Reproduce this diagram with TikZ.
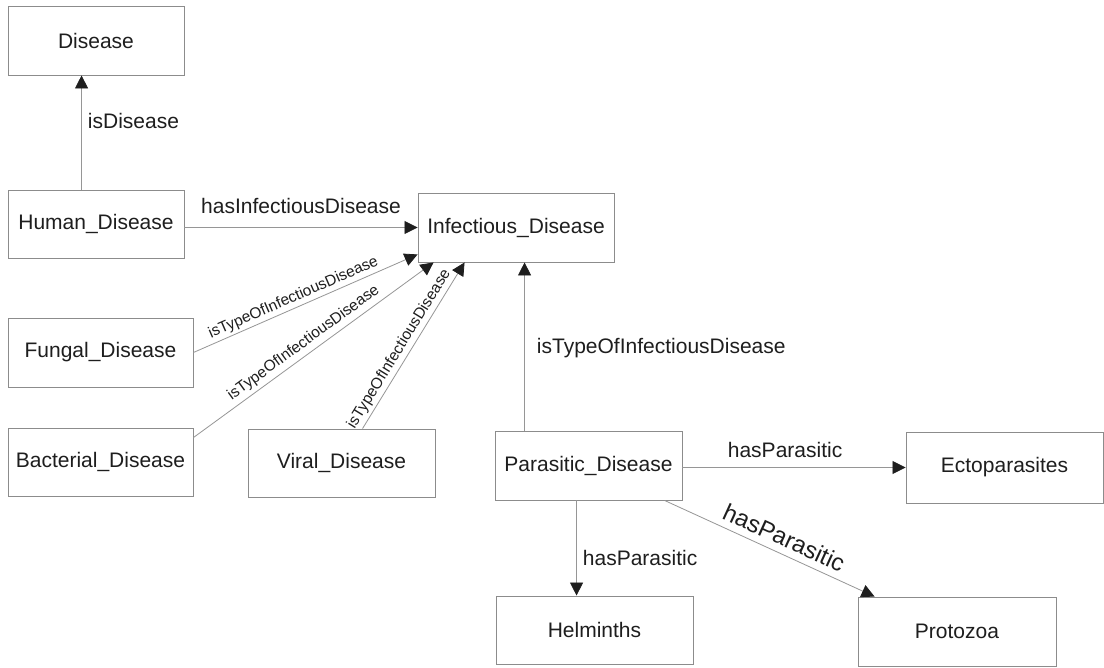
\documentclass[tikz,border=0pt]{standalone}
\usepackage{fontspec}
\setmainfont{Liberation Sans}
\usetikzlibrary{arrows.meta,calc}
\definecolor{boxline}{RGB}{140,140,140}
\definecolor{conline}{RGB}{150,150,150}
\definecolor{txt}{RGB}{30,30,30}
\tikzset{
  cbox/.style={draw=boxline, line width=0.9pt, inner sep=0pt, text=txt,
    font=\fontsize{21pt}{25pt}\selectfont, minimum width=#1},
  cbox/.default=180pt,
  arr/.style={draw=conline, line width=0.8pt,
    -{Triangle[length=13pt,width=13pt,color=txt]}},
  lab/.style={inner sep=0pt, text=txt, text height=0.72em, text depth=0pt,
    font=\fontsize{21pt}{25pt}\selectfont},
  slab/.style={inner sep=0pt, text=txt, text height=0.72em, text depth=0pt,
    font=\fontsize{15.5pt}{18pt}\selectfont, sloped},
  blab/.style={inner sep=0pt, text=txt, text height=0.72em, text depth=0pt,
    font=\fontsize{24pt}{28pt}\selectfont, sloped}
}
\begin{document}
\begin{tikzpicture}[x=1pt,y=-1pt]
\useasboundingbox[fill=white] (0,0) rectangle (1104,668);
% boxes
\node[cbox=176pt, minimum height=69pt] (dis) at (96,40.5) {Disease};
\node[cbox=176pt, minimum height=68pt] (hum) at (96,224) {Human\_Disease};
\node[cbox=196pt, minimum height=69pt] (inf) at (516,227.5) {Infectious\_Disease};
\node[cbox=185pt, minimum height=69pt] (fun) at (100.5,352.5) {Fungal\_Disease};
\node[cbox=185pt, minimum height=68pt] (bac) at (100.5,462) {Bacterial\_Disease};
\node[cbox=187pt, minimum height=68pt] (vir) at (341.5,463) {Viral\_Disease};
\node[cbox=187pt, minimum height=69pt] (par) at (588.5,465.5) {Parasitic\_Disease};
\node[cbox=197pt, minimum height=71pt] (ect) at (1004.5,467.5) {Ectoparasites};
\node[cbox=197pt, minimum height=68pt] (hel) at (594.5,630) {Helminths};
\node[cbox=198pt, minimum height=69pt] (pro) at (957,631.5) {Protozoa};
% helper coordinates
\coordinate (humtop) at ([xshift=74pt]hum.north west);
\coordinate (partop) at ([xshift=30pt]par.north west);
\coordinate (parbot) at ([xshift=82pt]par.south west);
% connectors
\draw[arr] (humtop) -- (humtop |- dis.south)
  node[lab, pos=0.565, right=6pt] {isDisease};
\draw[arr] (inf.west -| hum.east) -- (inf.west)
  node[lab, midway, above=14pt] {hasInfectiousDisease};
\draw[arr] (fun.east) -- ([yshift=8pt]inf.south west)
  node[slab, pos=0.464, above=5.5pt] {isTypeOfInfectiousDisease};
\draw[arr] ([yshift=-10pt]bac.north east) -- ([xshift=16pt]inf.south west)
  node[slab, pos=0.487, above=7pt] {isTypeOfInfectiousDisease};
\draw[arr] ([xshift=115pt]vir.north west) -- ([xshift=47pt]inf.south west)
  node[slab, pos=0.446, above=6pt] {isTypeOfInfectiousDisease};
\draw[arr] (partop) -- (partop |- inf.south)
  node[lab, pos=0.479, right=12pt] {isTypeOfInfectiousDisease};
\draw[arr] (ect.west -| par.east) -- (ect.west)
  node[lab, pos=0.46, above=10pt] {hasParasitic};
\draw[arr] (parbot) -- (parbot |- hel.north)
  node[lab, pos=0.646, right=6pt] {hasParasitic};
\draw[arr] ([xshift=170pt]par.south west) -- ([xshift=17pt]pro.north west)
  node[blab, pos=0.538, above=7pt] {hasParasitic};
\end{tikzpicture}
\end{document}
